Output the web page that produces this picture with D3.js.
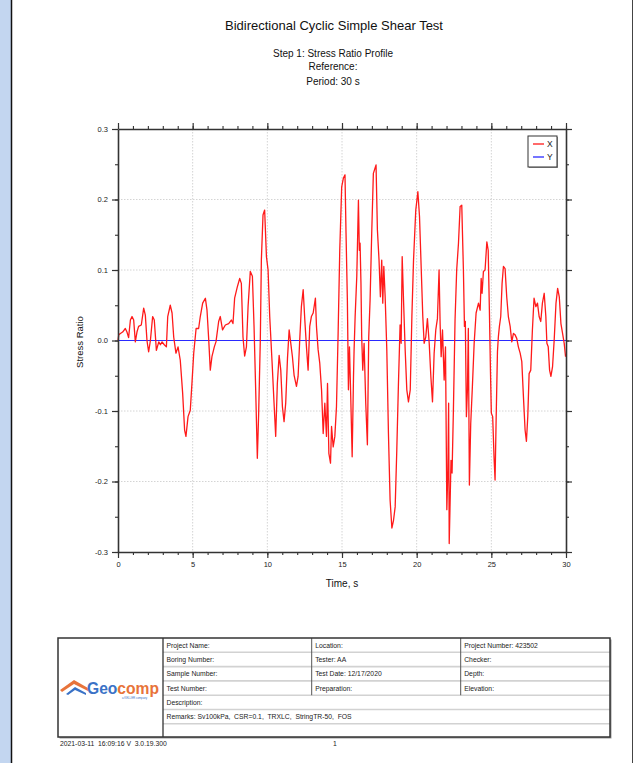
<!DOCTYPE html>
<html>
<head>
<meta charset="utf-8">
<script src="https://cdn.jsdelivr.net/npm/d3@7"></script>
<style>
  body { margin: 0; background: #fff; overflow: hidden; }
  svg { display: block; font-family: "Liberation Sans", Arial, sans-serif; }
  .pre { white-space: pre; }
</style>
</head>
<body>
<div id="chart"></div>
<script>
const width = 644;
const height = 763;
const margin = { left: 118, right: 78, top: 129, bottom: 211 };
const innerWidth = width - margin.left - margin.right;
const innerHeight = height - margin.top - margin.bottom;

const titleText = "Bidirectional Cyclic Simple Shear Test";
const subtitleLines = ["Step 1: Stress Ratio Profile", "Reference:", "Period: 30 s"];

const xMajorTicks = [0, 5, 10, 15, 20, 25, 30];
const yMajorTicks = [-0.3, -0.2, -0.1, 0, 0.1, 0.2, 0.3];

// [time s, stress ratio]
const stressX = [
  [0,0],[0.05,0.008],[0.16,0.01],[0.31,0.012],[0.49,0.017],[0.6,0.012],[0.71,0.004],[0.83,0.029],[0.94,0.034],[1.05,0.029],
  [1.16,-0.002],[1.27,0.012],[1.38,0.02],[1.56,0.022],[1.72,0.046],[1.83,0.036],[1.94,0],[2.05,-0.016],[2.17,0],[2.32,0.034],
  [2.43,0.029],[2.57,-0.014],[2.73,-0.002],[2.84,-0.006],[2.95,-0.002],[3.1,-0.006],[3.24,-0.009],[3.33,0.034],[3.5,0.05],[3.62,0.039],
  [3.73,0.005],[3.88,-0.018],[4.02,-0.009],[4.17,-0.028],[4.33,-0.075],[4.46,-0.127],[4.55,-0.136],[4.69,-0.108],[4.84,-0.099],[4.96,-0.058],
  [5.07,-0.018],[5.23,0.017],[5.4,0.017],[5.51,0.034],[5.67,0.053],[5.85,0.06],[5.96,0.043],[6.07,0.003],[6.18,-0.042],[6.29,-0.023],
  [6.45,-0.009],[6.56,-0.002],[6.74,0.027],[6.85,0.034],[7.0,0.015],[7.19,0.022],[7.41,0.024],[7.59,0.029],
  [7.7,0.024],[7.81,0.06],[7.99,0.076],[8.15,0.088],[8.26,0.081],[8.37,0.005],[8.48,-0.022],[8.6,-0.009],[8.71,0.048],[8.86,0.098],
  [9.0,0.091],[9.11,0.02],[9.22,-0.07],[9.33,-0.167],[9.42,-0.103],[9.53,0.001],[9.6,0.114],[9.71,0.178],[9.82,0.185],[9.94,0.119],
  [10.05,0.1],[10.16,0.034],[10.32,-0.032],[10.45,-0.089],[10.56,-0.136],[10.67,-0.061],[10.79,-0.021],[10.9,-0.042],[11.01,-0.094],[11.12,-0.115],
  [11.23,-0.089],[11.35,-0.025],[11.46,0.015],[11.57,-0.004],[11.68,-0.023],[11.79,-0.049],[11.95,-0.065],[12.06,-0.051],[12.17,0.001],[12.28,0.048],
  [12.4,0.072],[12.51,0.029],[12.62,-0.009],[12.73,-0.042],[12.84,0.02],[12.95,0.034],[13.07,0.039],[13.22,0.06],[13.29,0.02],[13.4,-0.013],
  [13.51,-0.032],[13.63,-0.07],[13.74,-0.132],[13.85,-0.089],[13.96,-0.136],[14.03,-0.061],[14.12,-0.16],[14.23,-0.174],[14.3,-0.122],[14.41,-0.151],
  [14.52,-0.136],[14.63,-0.094],[14.74,0.01],[14.85,0.128],
  [14.98,0.218],[15.09,0.23],[15.2,0.235],[15.27,0.152],[15.36,0.057],[15.43,-0.07],[15.5,-0.009],[15.59,-0.084],[15.68,-0.165],[15.77,-0.051],
  [15.81,-0.013],[15.88,0.034],[15.99,0.091],[16.1,0.199],[16.16,0.128],[16.21,0.138],[16.27,0.081],[16.32,0.005],[16.39,-0.042],[16.48,-0.004],
  [16.59,-0.089],[16.7,-0.148],[16.79,0.005],[16.88,0.057],[16.99,0.152],[17.1,0.237],[17.28,0.249],[17.37,0.157],[17.48,0.114],[17.57,0.062],
  [17.66,0.114],[17.73,0.053],[17.8,0.105],[17.89,0.062],[18.0,-0.013],[18.11,-0.132],[18.22,-0.226],[18.34,-0.266],[18.45,-0.255],[18.56,-0.236],
  [18.67,-0.155],[18.78,-0.061],[18.89,0.022],[18.96,-0.004],[19.03,0.119],[19.12,0.057],[19.23,-0.013],[19.34,-0.07],[19.45,-0.087],[19.57,-0.07],
  [19.68,0.034],[19.79,0.114],[19.94,0.185],[20.08,0.211],[20.19,0.176],[20.3,0.105],[20.41,0.034],[20.5,-0.004],[20.61,0.005],[20.72,0.031],
  [20.84,-0.004],[20.95,-0.051],[21.06,-0.087],[21.17,-0.018],[21.28,0.015],[21.39,0.031],[21.5,0.1],[21.57,0.024],[21.64,-0.023],[21.73,0.015],
  [21.84,-0.056],[21.93,-0.009],[22.02,-0.24],[22.09,-0.184],[22.14,-0.089],[22.18,-0.288],
  [22.3,-0.17],[22.37,-0.188],[22.46,-0.099],[22.57,0.029],[22.68,0.1],[22.8,0.138],[22.91,0.19],[23.02,0.192],[23.13,0.1],[23.2,0.02],
  [23.26,0.027],[23.33,-0.108],[23.4,-0.07],[23.46,0.017],[23.53,-0.205],[23.62,-0.118],[23.73,-0.066],[23.85,-0.004],[23.98,0.039],[24.14,0.053],
  [24.25,0.043],[24.32,0.088],[24.38,0.067],[24.47,0.098],[24.58,0.1],[24.7,0.14],[24.79,0.128],[24.87,0.043],[24.94,-0.042],[25.0,-0.103],
  [25.09,-0.108],[25.18,-0.165],[25.25,-0.198],[25.32,-0.113],[25.41,-0.016],[25.47,0.005],[25.54,0.02],[25.63,0.034],[25.72,0.081],[25.81,0.105],
  [25.92,0.102],[26.03,0.062],[26.14,0.034],[26.26,0.02],[26.37,-0.002],[26.48,0.01],[26.59,0.008],[26.7,0.003],[26.81,-0.009],[26.93,-0.018],
  [27.04,-0.03],[27.15,-0.08],[27.26,-0.127],[27.35,-0.143],[27.44,-0.108],[27.53,-0.047],[27.64,-0.042],[27.75,0.015],[27.86,0.06],[27.98,0.048],
  [28.09,0.053],[28.2,0.034],[28.31,0.027],[28.42,0.053],[28.54,0.067],[28.65,0.034],[28.72,-0.004],[28.81,-0.009],[28.9,-0.042],[28.99,-0.051],
  [29.1,-0.037],[29.21,0.001],[29.33,0.053],[29.44,0.074],[29.55,0.062],[29.66,0.024],[29.77,0.01],[29.88,-0.004],[29.97,-0.023]
];
const stressY = [[0, 0], [30, 0]];

const legendItems = [
  { name: "X", color: "#ff1a1a" },
  { name: "Y", color: "#2a2aff" }
];

const tableRows = [
  ["Project Name:", "Location:", "Project Number: 423502"],
  ["Boring Number:", "Tester: AA", "Checker:"],
  ["Sample Number:", "Test Date: 12/17/2020", "Depth:"],
  ["Test Number:", "Preparation:", "Elevation:"],
  ["Description:"],
  ["Remarks: Sv100kPa,  CSR=0.1,  TRXLC,  StringTR-50,  FOS"]
];
const footerStamp = "2021-03-11  16:09:16 V  3.0.19.300";
const pageNumber = "1";

const svg = d3.select("#chart")
  .append("svg")
  .attr("width", width)
  .attr("height", height);

// page frame
svg.append("rect").attr("width", width).attr("height", height).attr("fill", "#fff");
svg.append("rect").attr("x", 0).attr("y", 0).attr("width", 11).attr("height", height).attr("fill", "#c3d6f0");
svg.append("line").attr("x1", 11.5).attr("x2", 11.5).attr("y1", 0).attr("y2", height)
  .attr("stroke", "#111").attr("stroke-width", 1.5);
svg.append("line").attr("x1", 632.5).attr("x2", 632.5).attr("y1", 0).attr("y2", height)
  .attr("stroke", "#444").attr("stroke-width", 1);

// titles
svg.append("text")
  .attr("x", 334).attr("y", 30)
  .attr("text-anchor", "middle")
  .attr("font-size", 13)
  .attr("fill", "#111")
  .text(titleText);

svg.selectAll(".subtitle")
  .data(subtitleLines)
  .join("text")
  .attr("class", "subtitle")
  .attr("x", 333)
  .attr("y", (d, i) => [57, 70, 85][i])
  .attr("text-anchor", "middle")
  .attr("font-size", 10)
  .attr("fill", "#111")
  .text(d => d);

const xScale = d3.scaleLinear().domain([0, 30]).range([0, innerWidth]);
const yScale = d3.scaleLinear().domain([-0.3, 0.3]).range([innerHeight, 0]);

const innerChart = svg.append("g")
  .attr("transform", `translate(${margin.left}, ${margin.top})`);

// grid
const gridGroup = innerChart.append("g");
gridGroup.selectAll(".vgrid")
  .data(xMajorTicks.slice(1, -1))
  .join("line")
  .attr("x1", d => xScale(d)).attr("x2", d => xScale(d))
  .attr("y1", 0).attr("y2", innerHeight)
  .attr("stroke", "#d4d4d4").attr("stroke-dasharray", "1.5,1.5");
gridGroup.selectAll(".hgrid")
  .data(yMajorTicks.slice(1, -1))
  .join("line")
  .attr("x1", 0).attr("x2", innerWidth)
  .attr("y1", d => yScale(d)).attr("y2", d => yScale(d))
  .attr("stroke", "#d4d4d4").attr("stroke-dasharray", "1.5,1.5");

// series
const line = d3.line().x(d => xScale(d[0])).y(d => yScale(d[1]));
innerChart.append("path")
  .datum(stressY)
  .attr("d", line)
  .attr("fill", "none")
  .attr("stroke", legendItems[1].color)
  .attr("stroke-width", 1.2);
innerChart.append("path")
  .datum(stressX)
  .attr("d", line)
  .attr("fill", "none")
  .attr("stroke", legendItems[0].color)
  .attr("stroke-width", 1.3)
  .attr("stroke-linejoin", "round");

// axes
const xMinor = d3.range(0, 31, 1);
const yMinor = d3.range(-6, 7).map(d => d * 0.05);

function addAxis(axisFn, scale, majors, minors, transform, fmt) {
  const minorG = innerChart.append("g").attr("transform", transform);
  minorG.call(axisFn(scale).tickValues(minors).tickSize(3).tickSizeOuter(0));
  minorG.select(".domain").remove();
  minorG.selectAll(".tick text").remove();
  minorG.selectAll(".tick line").attr("stroke", "#333").attr("stroke-width", 1.1);

  const majorG = innerChart.append("g").attr("transform", transform);
  majorG.call(axisFn(scale).tickValues(majors).tickSize(6).tickSizeOuter(0).tickPadding(4)
    .tickFormat(fmt || (() => "")));
  majorG.select(".domain").attr("stroke", "#333").attr("stroke-width", 1.6);
  majorG.selectAll(".tick line").attr("stroke", "#333").attr("stroke-width", 1.2);
  if (fmt) {
    majorG.selectAll(".tick text").attr("fill", "#222").attr("font-size", 7.5)
      .attr("font-family", "'Liberation Sans', Arial, sans-serif");
  } else {
    majorG.selectAll(".tick text").remove();
  }
}

addAxis(d3.axisBottom, xScale, xMajorTicks, xMinor, `translate(0, ${innerHeight})`, d => d);
addAxis(d3.axisTop, xScale, xMajorTicks, xMinor, "translate(0, 0)");
addAxis(d3.axisLeft, yScale, yMajorTicks, yMinor, "translate(0, 0)", d => d.toFixed(1));
addAxis(d3.axisRight, yScale, yMajorTicks, yMinor, `translate(${innerWidth}, 0)`);

// axis titles
svg.append("text")
  .attr("x", margin.left + innerWidth / 2)
  .attr("y", 587)
  .attr("text-anchor", "middle")
  .attr("font-size", 10)
  .attr("fill", "#111")
  .text("Time, s");

svg.append("text")
  .attr("transform", "rotate(-90)")
  .attr("x", -342)
  .attr("y", 83)
  .attr("text-anchor", "middle")
  .attr("font-size", 9.5)
  .attr("fill", "#111")
  .text("Stress Ratio");

// legend
const legend = svg.append("g").attr("transform", "translate(528, 136)");
legend.append("rect").attr("x", 1).attr("y", 1).attr("width", 29).attr("height", 31).attr("fill", "#999");
legend.append("rect").attr("width", 29).attr("height", 31).attr("fill", "#fff")
  .attr("stroke", "#333").attr("stroke-width", 1);
const legendRow = legend.selectAll(".lg")
  .data(legendItems)
  .join("g")
  .attr("transform", (d, i) => `translate(0, ${8 + i * 13})`);
legendRow.append("line")
  .attr("x1", 5).attr("x2", 16).attr("y1", 0).attr("y2", 0)
  .attr("stroke", d => d.color).attr("stroke-width", 1.3);
legendRow.append("text")
  .attr("x", 19).attr("y", 3)
  .attr("font-size", 8.5)
  .attr("fill", "#222")
  .text(d => d.name);

// info table
const tX = 58, tY = 638, tW = 552, tH = 99;
const logoRight = 163;
const rowH = 14.3;
const rowCount = 7;
const colX = [logoRight, 311.7, 460.7];
const table = svg.append("g");

table.append("rect").attr("x", tX + 1.5).attr("y", tY + 1.5).attr("width", tW).attr("height", tH)
  .attr("fill", "#9a9a9a");
table.append("rect").attr("x", tX).attr("y", tY).attr("width", tW).attr("height", tH)
  .attr("fill", "#fff");

table.selectAll(".rowline")
  .data(d3.range(1, rowCount))
  .join("line")
  .attr("x1", logoRight).attr("x2", tX + tW)
  .attr("y1", i => tY + i * rowH).attr("y2", i => tY + i * rowH)
  .attr("stroke", "#d2d2d2").attr("stroke-width", 1.6);

table.selectAll(".colline")
  .data(colX.slice(1))
  .join("line")
  .attr("x1", d => d).attr("x2", d => d)
  .attr("y1", tY).attr("y2", tY + 4 * rowH)
  .attr("stroke", "#555").attr("stroke-width", 1);

table.append("line").attr("x1", logoRight).attr("x2", logoRight).attr("y1", tY).attr("y2", tY + tH)
  .attr("stroke", "#333").attr("stroke-width", 1.3);
table.append("rect").attr("x", tX).attr("y", tY).attr("width", tW).attr("height", tH)
  .attr("fill", "none").attr("stroke", "#333").attr("stroke-width", 1.5);

tableRows.forEach((row, r) => {
  row.forEach((cell, c) => {
    table.append("text")
      .attr("class", "pre")
      .attr("x", colX[c] + 3.5)
      .attr("y", tY + r * rowH + 9.8)
      .attr("font-size", 6.8)
      .attr("fill", "#222")
      .text(cell);
  });
});

// logo
const logo = svg.append("g");
logo.append("path")
  .attr("d", "M60,690 L74,680 L88,688 L88,691 L74,684 L62,692 Z")
  .attr("fill", "#e8733a");
logo.append("path")
  .attr("d", "M66,694 L75,687 L86,693 L86,695 L75,690 L68,695 Z")
  .attr("fill", "#3a72c6");
const logoText = logo.append("text")
  .attr("x", 87).attr("y", 694)
  .attr("font-size", 16.5)
  .attr("font-weight", "bold")
  .attr("textLength", 72)
  .attr("lengthAdjust", "spacingAndGlyphs");
logoText.append("tspan").attr("fill", "#3a72c6").text("Geo");
logoText.append("tspan").attr("fill", "#e8733a").text("comp");
logo.append("text")
  .attr("x", 122).attr("y", 699)
  .attr("font-size", 2.8)
  .attr("fill", "#3a72c6")
  .text("a KELLER company");

// footer
svg.append("text")
  .attr("class", "pre")
  .attr("x", 60).attr("y", 746)
  .attr("font-size", 6.8)
  .attr("fill", "#222")
  .text(footerStamp);
svg.append("text")
  .attr("x", 333).attr("y", 746)
  .attr("font-size", 6.8)
  .attr("fill", "#222")
  .text(pageNumber);
</script>
</body>
</html>
